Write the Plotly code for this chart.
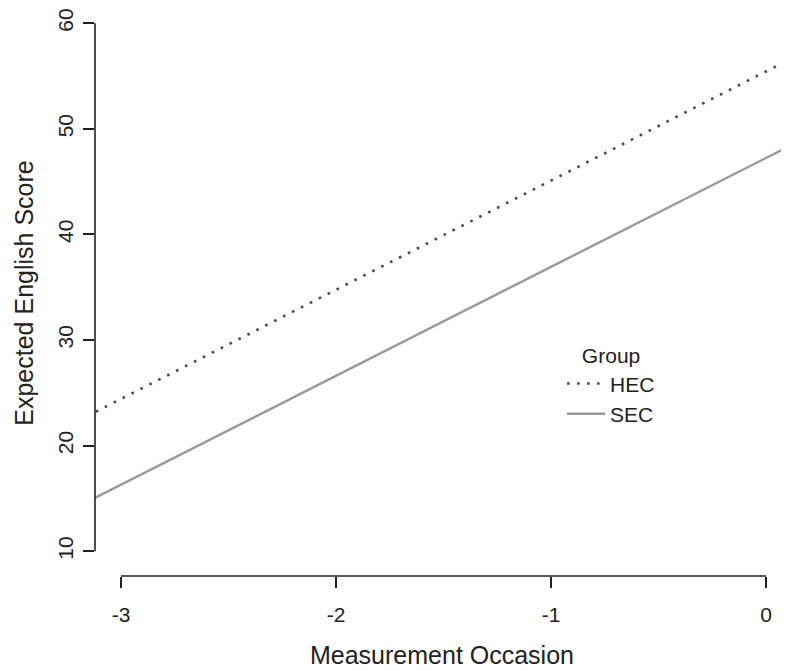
import plotly.graph_objects as go

# Data
occasion = [-3.2, 0.2]
hec = [22.35, 57.5]
sec = [14.23, 49.3]
x_ticks = [-3, -2, -1, 0]
y_ticks = [10, 20, 30, 40, 50, 60]
groups = ["HEC", "SEC"]

FONT = "Liberation Sans, Arial, Helvetica, sans-serif"
INK = "#222222"

fig = go.Figure()
fig.add_trace(go.Scatter(x=occasion, y=hec, mode="lines", name=groups[0],
                         line=dict(color="#4a4a4a", width=2.6, dash="2.6px,7.4px")))
fig.add_trace(go.Scatter(x=occasion, y=sec, mode="lines", name=groups[1],
                         line=dict(color="#9a9a9a", width=2.4)))

# R-style detached axis lines
fig.add_shape(type="line", xref="x", yref="paper", x0=min(x_ticks), x1=max(x_ticks),
              y0=0, y1=0, line=dict(color=INK, width=1.6))
fig.add_shape(type="line", xref="paper", yref="y", x0=0, x1=0,
              y0=min(y_ticks), y1=max(y_ticks), line=dict(color=INK, width=1.6))

# page body has an 8px margin, so the figure is sized to 781x663
fig.update_layout(
    width=781, height=663,
    margin=dict(l=87, r=0, t=0, b=95),
    paper_bgcolor="white", plot_bgcolor="white",
    font=dict(family=FONT, color=INK, size=21),
    showlegend=True,
    legend=dict(
        title=dict(text="Group", side="top center", font=dict(size=21, color=INK)),
        x=0.673, y=0.424, xanchor="left", yanchor="top",
        bgcolor="rgba(0,0,0,0)", borderwidth=0, itemwidth=38,
        font=dict(size=21, color=INK), tracegroupgap=0,
    ),
    xaxis=dict(
        range=[-3.121, 0.107], showgrid=False, zeroline=False, showline=False,
        tickmode="array", tickvals=x_ticks, ticktext=[str(v) for v in x_ticks],
        ticks="outside", ticklen=11, tickwidth=1.6, tickcolor=INK,
        tickfont=dict(size=21, color=INK), ticklabelstandoff=9,
        title=dict(text="Measurement Occasion", font=dict(size=25, color=INK), standoff=21),
    ),
    yaxis=dict(
        range=[7.65, 61.25], showgrid=False, zeroline=False, showline=False,
        tickmode="array", tickvals=y_ticks, ticktext=[str(v) for v in y_ticks],
        ticks="outside", ticklen=11, tickwidth=1.6, tickcolor=INK, tickangle=-90,
        ticklabeloverflow="allow",
        tickfont=dict(size=21, color=INK), ticklabelstandoff=2,
        title=dict(text="Expected English Score", font=dict(size=25, color=INK), standoff=12),
    ),
)

fig.write_html("out.html")
